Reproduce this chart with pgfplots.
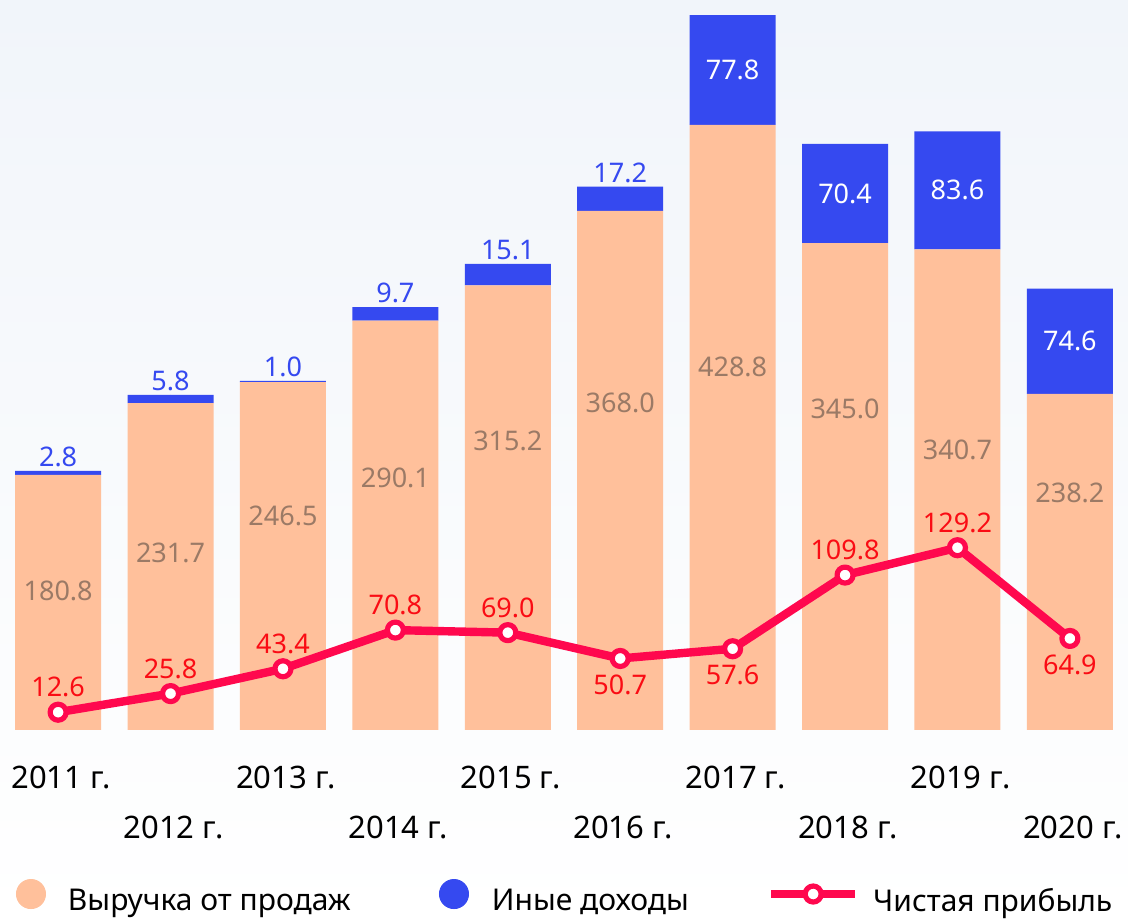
\documentclass[border=0pt]{standalone}
\usepackage{fontspec}
\setmainfont{Noto Sans}
\usepackage{pgfplots}
\pgfplotsset{compat=1.18}
\definecolor{peach}{RGB}{255,192,155}
\definecolor{blueinc}{RGB}{53,73,240}
\definecolor{linered}{RGB}{255,8,78}
\definecolor{lblred}{RGB}{250,12,20}
\definecolor{revlab}{RGB}{155,122,102}
\definecolor{bgtop}{RGB}{241,245,250}
\definecolor{bgmid}{RGB}{248,250,253}
\newcommand{\lbl}{\fontsize{13.5}{16}\selectfont}

\pgfplotsset{
  base/.style={
    at={(0,0)}, anchor=south west, scale only axis,
    width=564pt, height=365pt,
    xmin=-0.517, xmax=9.517, ymin=0, ymax=517.4,
    axis line style={draw=none}, tick style={draw=none},
    major tick length=0pt, ytick=\empty, clip=false,
  },
  lab/.style={
    only marks, mark=*, mark size=0pt, mark options={draw=none,fill=none},
    forget plot, nodes near coords, point meta=explicit symbolic,
    every node near coord/.append style={anchor=center, font=\lbl, inner sep=0pt, #1},
  },
}

\begin{document}
\begin{tikzpicture}
\path[use as bounding box] (0,-94.5pt) rectangle (564pt,365pt);
\shade[top color=bgtop, middle color=bgmid, bottom color=white] (0,-94.5pt) rectangle (564pt,365pt);

% bars
\begin{axis}[base, ybar stacked, bar width=43pt,
  xtick={0,2,4,6,8},
  xticklabels={2011 г.,2013 г.,2015 г.,2017 г.,2019 г.},
  extra x ticks={1,3,5,7,9},
  extra x tick labels={2012 г.,2014 г.,2016 г.,2018 г.,2020 г.},
  xticklabel style={anchor=center, yshift=-23.5pt, xshift=1.5pt, font=\fontsize{15.5}{18}\selectfont},
  extra x tick style={grid=none, xticklabel style={yshift=-25pt}},
]
\addplot[fill=peach, draw=none] coordinates {(0,180.8) (1,231.7) (2,246.5) (3,290.1) (4,315.2) (5,368.0) (6,428.8) (7,345.0) (8,340.7) (9,238.2)};
\addplot[fill=blueinc, draw=none] coordinates {(0,2.8) (1,5.8) (2,1.0) (3,9.7) (4,15.1) (5,17.2) (6,77.8) (7,70.4) (8,83.6) (9,74.6)};
\end{axis}

% labels, net profit line, legend
\begin{axis}[base, xtick=\empty,
  legend columns=3,
  legend style={at={(0.01418,-0.2288)}, anchor=west, draw=none, fill=none,
    inner sep=0pt, outer sep=0pt, column sep=0pt, nodes={inner sep=0pt},
    font=\fontsize{15}{18}\selectfont},
]
\addlegendimage{legend image code/.code={\path[draw=none,fill=none] (0,-7pt) rectangle (25.5pt,7pt); \fill[peach] (7pt,3.5pt) circle (7.3pt);}}
\addlegendentry{\makebox[185.5pt][l]{Выручка от продаж}}
\addlegendimage{legend image code/.code={\path[draw=none,fill=none] (0,-7pt) rectangle (26pt,7pt); \fill[blueinc] (7pt,3.5pt) circle (7.3pt);}}
\addlegendentry{\makebox[137.5pt][l]{Иные доходы}}

% revenue labels
\addplot[lab={text=revlab}] coordinates {(0,98.5)[180.8] (1,125.4)[231.7] (2,151.7)[246.5] (3,178.6)[290.1] (4,204.8)[315.2] (5,231.7)[368.0] (6,257.6)[428.8] (7,227.7)[345.0] (8,198.4)[340.7] (9,168.1)[238.2]};
% other income, small: above the bar
\addplot[lab={text=blueinc, yshift=7pt}] coordinates {(0,183.6)[2.8] (1,237.5)[5.8] (2,247.5)[1.0] (3,299.8)[9.7] (4,330.3)[15.1] (5,385.2)[17.2]};
% other income, large: inside the bar
\addplot[lab={text=white}] coordinates {(6,467.7)[77.8] (7,380.2)[70.4] (8,382.5)[83.6] (9,275.5)[74.6]};

\addplot[linered, line width=4.2pt, line join=round, mark=*, mark size=4pt,
  mark options={fill=white, draw=linered, line width=2.6pt},
  legend image code/.code={\path[draw=none,fill=none] (0,-7pt) rectangle (51pt,7pt);
    \draw[linered, line width=4.2pt] (0,3.5pt) -- (42pt,3.5pt);
    \draw[linered, fill=white, line width=2.6pt] (21pt,3.5pt) circle (4pt);}]
  coordinates {(0,12.6) (1,25.8) (2,43.4) (3,70.8) (4,69.0) (5,50.7) (6,57.6) (7,109.8) (8,129.2) (9,64.9)};
\addlegendentry{Чистая прибыль}

\addplot[lab={text=lblred, yshift=12.5pt}] coordinates {(0,12.6)[12.6] (1,25.8)[25.8] (2,43.4)[43.4] (3,70.8)[70.8] (4,69.0)[69.0] (7,109.8)[109.8] (8,129.2)[129.2]};
\addplot[lab={text=lblred, yshift=-13pt}] coordinates {(5,50.7)[50.7] (6,57.6)[57.6] (9,64.9)[64.9]};
\end{axis}
\end{tikzpicture}
\end{document}
